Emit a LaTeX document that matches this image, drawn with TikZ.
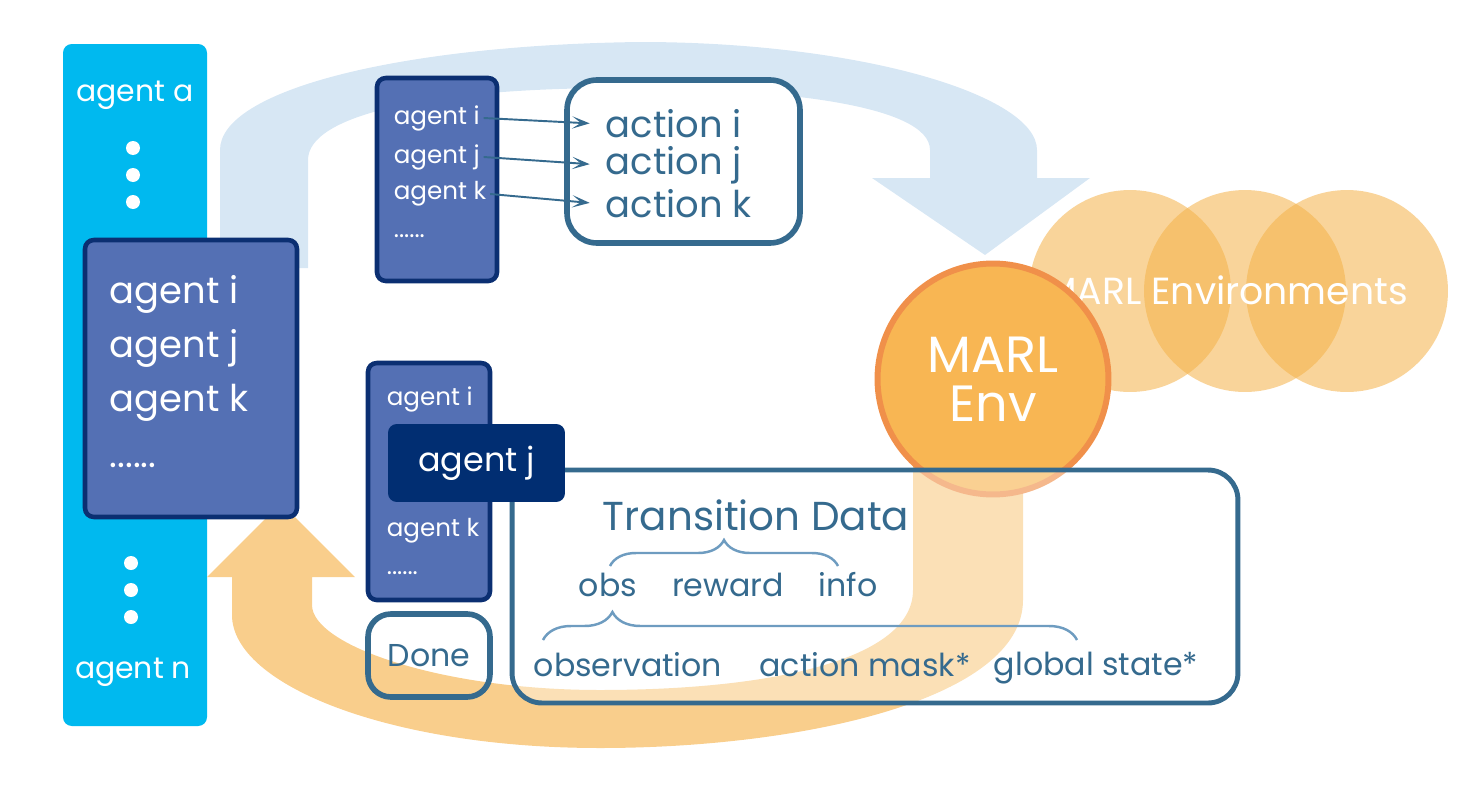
\documentclass[tikz,border=0pt]{standalone}
\usepackage{fontspec}
\setmainfont{Poppins}
\usepackage{tikz}
\usetikzlibrary{arrows.meta,positioning,decorations.pathreplacing}
\usepackage{xcolor}
\definecolor{agentcyan}{HTML}{00B9EF}
\definecolor{agentfill}{HTML}{5470B4}
\definecolor{agentline}{HTML}{0B2F72}
\definecolor{agentdark}{HTML}{012E72}
\definecolor{steel}{HTML}{356A8E}
\definecolor{bracecol}{HTML}{6E9CC0}
\definecolor{arcblue}{HTML}{D7E7F4}
\definecolor{arcorange}{HTML}{F9CE8C}
\definecolor{envfill}{HTML}{F8B653}
\definecolor{envline}{HTML}{F0904A}
\definecolor{envsfill}{RGB}{244,177,71}

\begin{document}
\begin{tikzpicture}
      [x=0.02cm, y=-0.02cm,
      agent box/.style={draw=agentline, fill=agentfill, line width=2.6pt, rounded corners=5pt, inner sep=0pt},
      agent text/.style={text=white, inner sep=2pt, anchor=west},
      small text/.style={agent text, font=\fontsize{14}{16}\selectfont},
      big text/.style={agent text, font=\fontsize{21}{24}\selectfont},
      steel box/.style={draw=steel, line width=3.2pt, inner sep=0pt},
      steel text/.style={text=steel, inner sep=2pt},
      data text/.style={steel text, font=\fontsize{18}{20}\selectfont},
      pick/.style={draw=steel, line width=1.1pt, shorten >=7pt, -{Stealth[length=10pt, width=7pt, inset=5pt]}},
      data brace/.style={draw=bracecol, line width=1.4pt, decorate, decoration={brace, amplitude=#1}}
      ]
      \useasboundingbox (0,0) rectangle (1481,801);

      % all agents
      \fill[agentcyan, rounded corners=5pt] (63,44) rectangle (207,726);
      \node[text=white, font=\fontsize{17}{20}\selectfont] (first) at (135,95) {agent a};
      \node[text=white, font=\fontsize{17}{20}\selectfont] (last) at (133,672) {agent n};
      \foreach \y in {148,175,202} \fill[white] (133,\y) circle (7);
      \foreach \y in {563,590,617} \fill[white] (131,\y) circle (7);

      % step arrow and feedback arrow
      \fill[arcblue] (220,268) -- (220,150) .. controls (220,90) and (400,45) .. (640,42)
        .. controls (860,42) and (1037,95) .. (1037,150) -- (1037,178) -- (1090,178) -- (985,255)
        -- (872,178) -- (930,178) -- (930,150) .. controls (930,105) and (780,88) .. (620,88)
        .. controls (430,88) and (308,115) .. (308,160) -- (308,268) -- cycle;
      \fill[arcorange] (1023,460) -- (1023,600) .. controls (1023,700) and (800,748) .. (600,748)
        .. controls (390,748) and (232,685) .. (232,615) -- (232,577) -- (207,577) -- (281,503)
        -- (355,577) -- (312,577) -- (312,605) .. controls (312,645) and (440,690) .. (600,690)
        .. controls (770,690) and (913,660) .. (913,590) -- (913,460) -- cycle;

      % environments
      \foreach \x/\n in {1130/e1,1245/e2,1347/e3}
        \node[circle, fill=envsfill, fill opacity=.55, minimum size=4.04cm, inner sep=0pt] (\n) at (\x,291) {};
      \node[text=white, font=\fontsize{21.5}{24}\selectfont] (envs) at (1226,290) {MARL Environments};
      \node[circle, draw=envline, fill=envfill, line width=3.4pt, minimum size=4.62cm, align=center,
        text=white, font=\fontsize{29}{28}\selectfont] (env) at (993,379) {MARL\\Env};

      % acting
      \node[agent box, minimum width=2.4cm, minimum height=4.06cm] (act) at (437,179.5) {};
      \node[small text] (ti) at (390,118) {agent i};
      \node[small text] (tj) at (390,157) {agent j};
      \node[small text] (tk) at (390,194) {agent k};
      \node[small text] (tdots) at (390,236) {......};
      \node[steel box, fill=white, rounded corners=17pt, minimum width=4.66cm, minimum height=3.26cm] (acts) at (683.5,161.5) {};
      \node[steel text, anchor=west, font=\fontsize{21}{24}\selectfont] (ai) at (602,124) {action i};
      \node[steel text, anchor=west, font=\fontsize{21}{24}\selectfont] (aj) at (602,165) {action j};
      \node[steel text, anchor=west, font=\fontsize{21}{24}\selectfont] (ak) at (602,204) {action k};
      \draw[pick] (ti.east) -- (ai.west);
      \draw[pick] (tj.east) -- (aj.west);
      \draw[pick] (tk.east) -- (ak.west);

      % active agents
      \node[agent box, minimum width=4.24cm, minimum height=5.54cm] (pool) at (191,378.5) {};
      \node[big text] (pi) at (106,294) {agent i};
      \node[big text] (pj) at (106,348) {agent j};
      \node[big text] (pk) at (106,403) {agent k};
      \node[big text] (pdots) at (106,465) {......};

      % returning agents
      \node[agent box, minimum width=2.44cm, minimum height=4.74cm] (back) at (429,481.5) {};
      \node[small text] (bi) at (383,399) {agent i};
      \node[small text] (bk) at (383,531) {agent k};
      \node[small text] (bdots) at (383,573) {......};

      % transition data
      \node[steel box, fill=white, fill opacity=.37, line width=2.8pt, rounded corners=17pt,
        minimum width=14.52cm, minimum height=4.66cm] (trans) at (875,586.5) {};
      \node[steel text, font=\fontsize{23}{26}\selectfont] (title) at (756,515) {Transition Data};
      \draw[data brace=0.52cm] (610,566) -- (838,566);
      \node[data text] (obs) at (608,585) {obs};
      \node[data text] (rew) at (728,585) {reward};
      \node[data text] (info) at (848,585) {info};
      \draw[data brace=0.56cm, decoration={aspect=0.13}] (543,640) -- (1077,640);
      \node[data text] (ob) at (628,665) {observation};
      \node[data text] (mask) at (865,665) {action mask*};
      \node[data text] (state) at (1096,668) {global state*};

      \node[steel box, rounded corners=13pt, minimum width=2.44cm, minimum height=1.66cm,
        text=steel, font=\fontsize{18}{20}\selectfont] (done) at (429,655.5) {Done};
      \node[fill=agentdark, rounded corners=5pt, minimum width=3.54cm, minimum height=1.56cm,
        text=white, font=\fontsize{19}{22}\selectfont] (sel) at (476.5,463) {agent j};
    \end{tikzpicture}
\end{document}
